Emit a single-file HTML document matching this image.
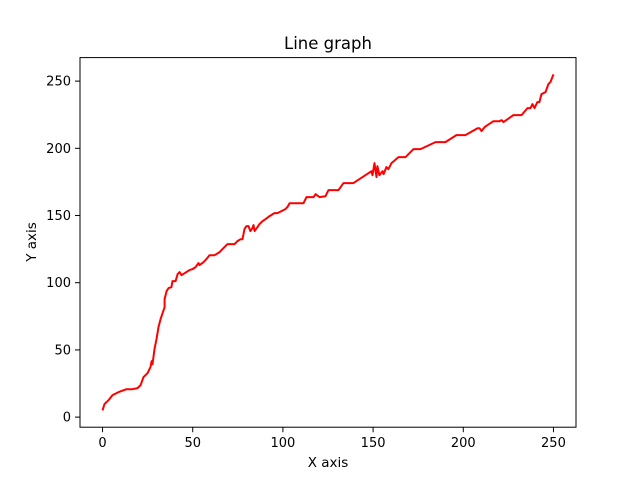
<!DOCTYPE html>
<html><head><meta charset="utf-8"><style>
body{margin:0;background:#fff}
svg{display:block;font-family:"DejaVu Sans","Liberation Sans",sans-serif}
</style></head><body>
<svg id="chart" width="640" height="480">
<rect width="640" height="480" fill="#fff"/>
<text x="328" y="49" font-size="16.5" text-anchor="middle">Line graph</text>
<text x="328" y="467" font-size="13.5" text-anchor="middle">X axis</text>
<text x="36" y="242" font-size="13.5" text-anchor="middle" transform="rotate(-90 36 242)">Y axis</text>
<g id="ticks"></g>
<path id="line" fill="none" stroke="#ff0000" stroke-width="2" stroke-linejoin="round"/>
<rect x="80" y="57.6" width="496" height="369.6" fill="none" stroke="#000" stroke-width="1"/>
</svg>
<script>
const xs=[0,1.1,3.3,5.5,8.9,13.3,16.6,19.4,21.1,22.7,24.9,26.6,27.2,27.7,28.8,29.9,31,32.2,33.3,34.4,34.4,35.5,36.6,38.2,38.8,40.5,41.6,42.7,43.8,45.5,48.2,49.9,51.6,53.2,53.8,56,57.6,59.3,62.1,64.9,66.5,69.3,73.2,74.8,76.5,77.6,78.7,79.8,80.9,82,83.1,83.7,84.3,85.9,87,88.7,90.4,92.6,95.3,97,99.2,101.4,102.5,103.7,111.4,113.1,117,118.1,120.3,123.6,125.3,130.8,133.6,139.1,149.1,149.7,150.8,151.9,152.4,153.5,155.2,155.8,157.4,158.5,160.2,164.1,168,172.4,176.3,184.6,190.1,196.2,201.2,207.9,209,210.1,211.8,216.7,220.1,221.2,222.3,227.8,232.3,235.6,237.3,238.4,239.5,241.1,242.2,243.3,245.6,247.2,248.3,250];
const ys=[5,9.7,12.6,16.4,18.6,20.8,20.8,21.6,23.8,29.8,32.7,37.2,41.7,39.4,50.6,58,67,73,77.4,81.8,87.8,93.8,96,96.7,101.2,101.2,106.4,107.9,105.7,107.1,109.4,110.1,111.6,114.6,113.1,115.3,117.6,120.5,120.5,122.8,125,128.7,128.7,131,132.4,132.4,139.9,142.1,142.1,138.4,140.6,142.9,138.4,141.4,143.6,145.8,147.3,149.6,151.8,151.8,153.3,154.8,156.3,159.2,159.2,163.7,163.7,165.9,163.7,164.4,168.9,168.9,174.1,174.1,183,180,189,178.6,186.8,180,183,180.8,186,184.5,189,193.5,193.5,199.4,199.4,204.6,204.6,209.8,209.8,215,215,212.8,215.8,220.2,220.2,221,219.5,224.7,224.7,229.9,229.9,232.9,229.9,234.4,234.4,240.3,241.8,247.8,249.3,255];
const xTicks=[0,50,100,150,200,250];
const yTicks=[0,50,100,150,200,250];
const X=v=>80+(v+12.5)/275*496;
const Y=v=>427.2-(v+7.5)/275*369.6;
const ns="http://www.w3.org/2000/svg";
const g=document.getElementById('ticks');
function mk(t,a){const e=document.createElementNS(ns,t);for(const k in a)e.setAttribute(k,a[k]);g.appendChild(e);return e;}
xTicks.forEach(t=>{
 const l=mk('line',{x1:X(t),x2:X(t),y1:427.2,y2:432.2,stroke:'#000'});
 
 
 const tx=mk('text',{x:X(t),y:447,'font-size':13,'text-anchor':'middle'});
 tx.textContent=t;
 
 
});
yTicks.forEach(t=>{
 const l=mk('line',{x1:75,x2:80,y1:Y(t),y2:Y(t),stroke:'#000'});
 
 
 const tx=mk('text',{x:71,y:Y(t)+4.5,'font-size':13,'text-anchor':'end'});
 tx.textContent=t;
 
 
});
document.getElementById('line').setAttribute('d',xs.map((x,i)=>(i?'L':'M')+X(x).toFixed(1)+','+Y(ys[i]).toFixed(1)).join(''));
</script>
</body></html>
